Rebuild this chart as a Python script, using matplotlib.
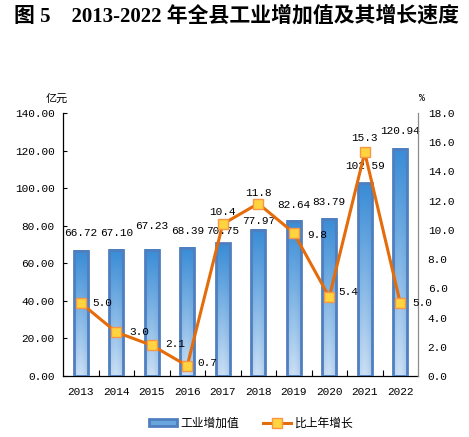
import numpy as np
import matplotlib
matplotlib.use("Agg")
import matplotlib.pyplot as plt
from matplotlib.patches import Patch
from matplotlib.lines import Line2D

years = ["2013", "2014", "2015", "2016", "2017", "2018", "2019", "2020", "2021", "2022"]
value_added = [66.72, 67.10, 67.23, 68.39, 70.75, 77.97, 82.64, 83.79, 102.59, 120.94]
growth = [5.0, 3.0, 2.1, 0.7, 10.4, 11.8, 9.8, 5.4, 15.3, 5.0]
left_ticks = [0, 20, 40, 60, 80, 100, 120, 140]
right_ticks = [0, 2, 4, 6, 8, 10, 12, 14, 16, 18]

title = "图 5    2013-2022 年全县工业增加值及其增长速度"
bar_name = "工业增加值"
line_name = "比上年增长"

# label placement (pixels) - style
bar_lab_off = [15, 14, 21, 14, 9, 6, 13, 14, 14, 15]
line_lab_off = [(12, 0, 'left'), (13, 0, 'left'), (13, 1, 'left'), (10, 3, 'left'),
                (0, 12, 'center'), (0, 11, 'center'), (14, -2, 'left'), (9, 5, 'left'),
                (0, 14, 'center'), (12, 0, 'left')]

CJK = ['Noto Sans CJK SC', 'DejaVu Sans']
MONO = ['Liberation Mono', 'Noto Sans CJK SC']
PX = 0.72  # points per pixel at dpi 100

fig = plt.figure(figsize=(4.69, 4.37), dpi=100)
ax = fig.add_axes([63/469, 1-376/437, (418-63)/469, (376-113)/437])
ax2 = ax.twinx()

x = np.arange(len(years))
bw = 0.40
edge_col = '#4f7fbf'
bars = ax.bar(x, value_added, width=bw, facecolor='none', edgecolor=edge_col,
              linewidth=2.0, zorder=3)

# gradient fill for each bar
ny, nx = 100, 40
t = np.linspace(0, 1, ny)[:, None]           # 0 bottom -> 1 top
s = np.linspace(-1, 1, nx)[None, :]
top = np.array([0.22, 0.55, 0.84])
bot = np.array([0.80, 0.88, 0.96])
vert = bot[None, None, :] * (1 - t[..., None]) + top[None, None, :] * t[..., None]
hor = 1 - 0.22 * (np.abs(s - (-0.15)) ** 1.6)[..., None]
dark_edge = np.array([0.30, 0.52, 0.80])
img = vert * hor + dark_edge * (1 - hor)
img = np.clip(img, 0, 1)
for b in bars:
    x0, w, h = b.get_x(), b.get_width(), b.get_height()
    ax.imshow(img, extent=[x0, x0 + w, 0, h], origin='lower', aspect='auto',
              zorder=2, interpolation='bilinear')

for xi, v, off in zip(x, value_added, bar_lab_off):
    ax.annotate(f"{v:.2f}", (xi, v), xytext=(0, off * PX + 2), textcoords='offset points',
                ha='center', va='center', fontsize=8, family=MONO, color='black', zorder=4)

ax.set_xlim(-0.5, len(years) - 0.5)
ax.set_ylim(0, 140)
ax.set_yticks(left_ticks)
ax.set_yticklabels([f"{v:.2f}" for v in left_ticks], family=MONO, fontsize=8)
ax.set_xticks(x)
ax.set_xticklabels(years, family=MONO, fontsize=8)
ax.set_xticks(np.arange(0.5, len(years) - 1, 1.0), minor=True)
ax.tick_params(axis='x', which='major', length=0, pad=8)
ax.tick_params(axis='x', which='minor', direction='in', length=4, width=0.8, color='black')
ax.tick_params(axis='y', direction='in', length=3, width=0.8, pad=6)
ax.spines['top'].set_visible(False)
ax.spines['right'].set_visible(False)
ax.spines['left'].set_linewidth(0.9)
ax.spines['bottom'].set_linewidth(0.9)

line_col = '#e46c0a'
ax2.plot(x, growth, color=line_col, linewidth=2.2, marker='s', markersize=7,
         markerfacecolor='#ffd43f', markeredgecolor='#f79646', markeredgewidth=1.0, zorder=5)
for xi, v, (dx, dy, ha) in zip(x, growth, line_lab_off):
    ax2.annotate(f"{v:.1f}", (xi, v), xytext=(dx * PX, dy * PX), textcoords='offset points',
                 ha=ha, va='center', fontsize=8, family=MONO, color='black', zorder=6)
ax2.set_ylim(0, 18)
ax2.set_yticks(right_ticks)
ax2.set_yticklabels([f"{v:.1f}" for v in right_ticks], family=MONO, fontsize=8)
ax2.tick_params(axis='y', length=0, pad=7)
for sp in ['top', 'left', 'bottom']:
    ax2.spines[sp].set_visible(False)
ax2.spines['right'].set_color('#8c8c8c')
ax2.spines['right'].set_linewidth(0.9)

fig.text(57/469, 1-99/437, "亿元", family=CJK, fontsize=8, ha='center', va='center')
fig.text(422/469, 1-98/437, "%", family=MONO, fontsize=7, ha='center', va='center')

fig.text(237/469, 1-16/437, title, family=['Liberation Serif', 'Noto Sans CJK SC'],
         fontsize=15, fontweight='bold', ha='center', va='center')

handles = [Patch(facecolor='#6aa6de', edgecolor=edge_col, linewidth=2.0),
           Line2D([0], [0], color=line_col, linewidth=2.2, marker='s', markersize=7,
                  markerfacecolor='#ffd43f', markeredgecolor='#f79646')]
fig.legend(handles, [bar_name, line_name], loc='center', bbox_to_anchor=(251/469, 1-423/437),
           ncol=2, frameon=False, prop={'family': CJK, 'size': 8.5},
           handlelength=2.4, handleheight=0.6, columnspacing=2.0, handletextpad=0.3)

fig.savefig("out.png", dpi=100)
